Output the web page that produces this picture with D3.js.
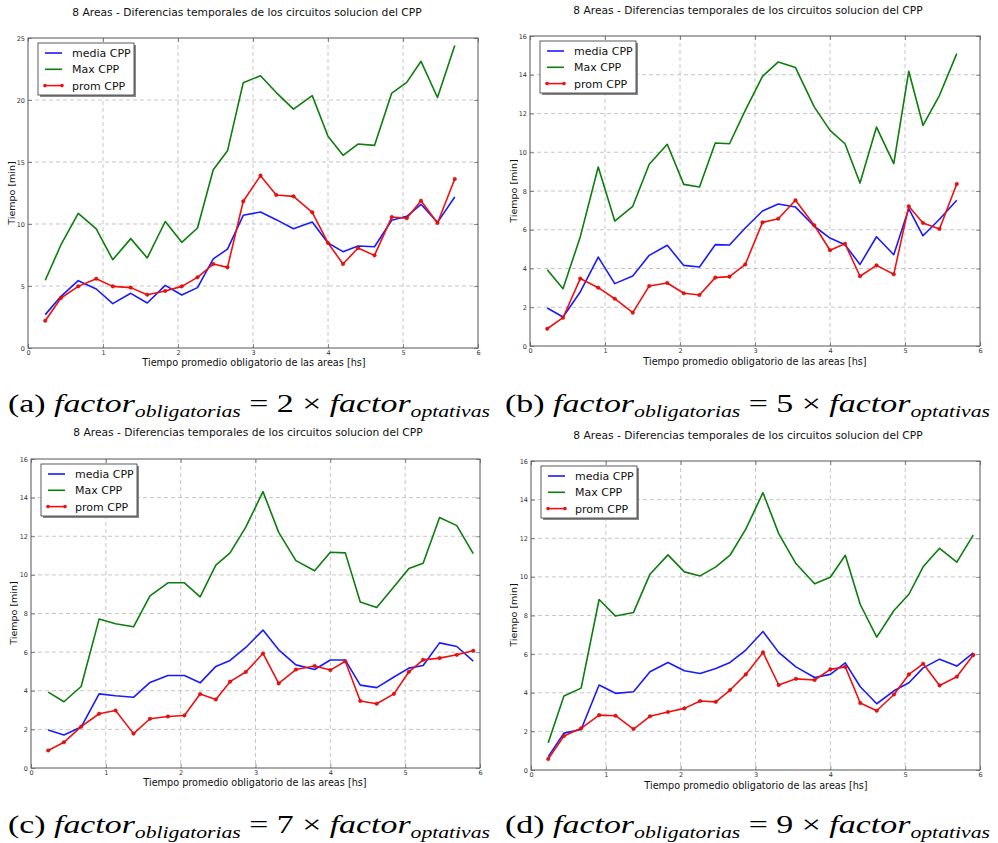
<!DOCTYPE html>
<html>
<head>
<meta charset="utf-8">
<script src="https://cdn.jsdelivr.net/npm/d3@7"></script>
<style>
  body { margin: 0; background: #fff; }
  svg { display: block; }
  .tick text { font-family: "DejaVu Sans", sans-serif; }
</style>
</head>
<body>
<div id="chart"></div>
<script>
// Tiempo promedio obligatorio de las areas [hs]
const xHs = [0.23, 0.44, 0.67, 0.91, 1.13, 1.37, 1.59, 1.83, 2.05, 2.26, 2.47, 2.66, 2.87,
  3.10, 3.31, 3.54, 3.79, 4.0, 4.2, 4.4, 4.62, 4.85, 5.05, 5.24, 5.46, 5.69, 5.91];

// (a) factor 2
const mediaA = [2.69, 4.17, 5.43, 4.76, 3.58, 4.41, 3.63, 5.05, 4.27, 4.87, 7.18, 7.98, 10.7,
  10.97, 10.35, 9.62, 10.16, 8.47, 7.77, 8.23, 8.17, 10.3, 10.62, 11.59, 10.13, 12.18];
const maxA = [5.46, 8.33, 10.86, 9.6, 7.12, 8.82, 7.26, 10.2, 8.52, 9.68, 14.38, 15.9, 21.4,
  21.96, 20.6, 19.27, 20.35, 17.07, 15.54, 16.45, 16.34, 20.56, 21.42, 23.12, 20.2, 24.4];
const promA = [2.2, 4.03, 4.97, 5.59, 4.97, 4.87, 4.3, 4.6, 4.97, 5.7, 6.77, 6.5, 11.83,
  13.9, 12.34, 12.23, 10.94, 8.47, 6.77, 8.06, 7.47, 10.56, 10.46, 11.88, 10.08, 13.63];

// (b) factor 5
const mediaB = [1.96, 1.5, 2.79, 4.59, 3.22, 3.61, 4.68, 5.2, 4.16, 4.08, 5.23, 5.21, 6.09,
  6.97, 7.33, 7.17, 6.18, 5.57, 5.23, 4.21, 5.64, 4.71, 7.09, 5.69, 6.54, 7.52];
const maxB = [3.94, 2.96, 5.63, 9.24, 6.45, 7.21, 9.38, 10.41, 8.34, 8.21, 10.48, 10.44, 12.16,
  13.92, 14.66, 14.37, 12.34, 11.13, 10.44, 8.41, 11.3, 9.41, 14.18, 11.39, 12.94, 15.09];
const promB = [0.89, 1.46, 3.48, 3.01, 2.44, 1.72, 3.1, 3.25, 2.72, 2.63, 3.53, 3.58, 4.21,
  6.38, 6.57, 7.52, 6.23, 4.94, 5.28, 3.6, 4.16, 3.7, 7.21, 6.35, 6.04, 8.36];

// (c) factor 7
const mediaC = [1.97, 1.71, 2.12, 3.84, 3.74, 3.66, 4.43, 4.79, 4.79, 4.41, 5.26, 5.57, 6.24,
  7.14, 6.12, 5.34, 5.1, 5.59, 5.59, 4.29, 4.16, 4.71, 5.17, 5.31, 6.48, 6.29, 5.53];
const maxC = [3.93, 3.43, 4.22, 7.71, 7.47, 7.31, 8.91, 9.59, 9.59, 8.86, 10.5, 11.14, 12.47,
  14.31, 12.2, 10.74, 10.21, 11.17, 11.14, 8.6, 8.31, 9.38, 10.33, 10.6, 12.97, 12.55, 11.1];
const promC = [0.91, 1.33, 2.14, 2.81, 2.98, 1.78, 2.55, 2.67, 2.72, 3.83, 3.55, 4.47, 4.97,
  5.93, 4.38, 5.1, 5.28, 5.07, 5.53, 3.47, 3.33, 3.84, 4.98, 5.6, 5.69, 5.86, 6.07];

// (d) factor 9
const mediaD = [0.69, 1.91, 2.1, 4.4, 3.97, 4.05, 5.09, 5.57, 5.14, 5.0, 5.26, 5.57, 6.21,
  7.17, 6.09, 5.34, 4.79, 4.95, 5.55, 4.31, 3.43, 4.1, 4.52, 5.29, 5.74, 5.38, 6.07];
const maxD = [1.41, 3.83, 4.24, 8.83, 7.97, 8.16, 10.14, 11.14, 10.26, 10.05, 10.52, 11.12, 12.47,
  14.36, 12.24, 10.69, 9.64, 9.98, 11.12, 8.57, 6.88, 8.26, 9.1, 10.52, 11.48, 10.76, 12.16];
const promD = [0.57, 1.76, 2.16, 2.84, 2.81, 2.12, 2.78, 3.0, 3.19, 3.57, 3.53, 4.14, 4.95,
  6.09, 4.4, 4.72, 4.66, 5.21, 5.34, 3.47, 3.07, 3.91, 4.95, 5.5, 4.38, 4.83, 5.95];

const seriesNames = ['media CPP', 'Max CPP', 'prom CPP'];
const seriesColors = ['#1a1aff', '#0d7d0d', '#f01010'];
const titleText = '8 Areas - Diferencias temporales de los circuitos solucion del CPP';
const xLabel = 'Tiempo promedio obligatorio de las areas [hs]';
const yLabel = 'Tiempo [min]';
const xTicks = [0, 1, 2, 3, 4, 5, 6];
const yTicksA = [0, 5, 10, 15, 20, 25];
const yTicks16 = [0, 2, 4, 6, 8, 10, 12, 14, 16];
const captionLetters = ['a', 'b', 'c', 'd'];
const captionFactors = [2, 5, 7, 9];

const W = 998, H = 843;
const svg = d3.select('#chart').append('svg').attr('width', W).attr('height', H);

const panels = [
  { x0: 28, y0: 38, x1: 478, y1: 348, ymax: 25, yTicks: yTicksA, data: [mediaA, maxA, promA], tx: 247, ty: 16, lx: 254, ly: 366, yx: 11, yy: 193, cx: 8, cy: 412, cw: 482 },
  { x0: 530, y0: 36, x1: 980, y1: 346, ymax: 16, yTicks: yTicks16, data: [mediaB, maxB, promB], tx: 748, ty: 14, lx: 755, ly: 365, yx: 513, yy: 191, cx: 505, cy: 412, cw: 485 },
  { x0: 31, y0: 459, x1: 480, y1: 768, ymax: 16, yTicks: yTicks16, data: [mediaC, maxC, promC], tx: 248, ty: 436, lx: 255, ly: 786, yx: 13, yy: 613, cx: 8, cy: 833, cw: 482 },
  { x0: 531, y0: 461, x1: 980, y1: 770, ymax: 16, yTicks: yTicks16, data: [mediaD, maxD, promD], tx: 748, ty: 439, lx: 756, ly: 789, yx: 513, yy: 615, cx: 505, cy: 833, cw: 485 }
];

panels.forEach((p, i) => {
  const g = svg.append('g');
  const x = d3.scaleLinear().domain([0, 6]).range([p.x0, p.x1]);
  const y = d3.scaleLinear().domain([0, p.ymax]).range([p.y1, p.y0]);

  // grid
  g.append('g').selectAll('line').data(xTicks.slice(1, -1)).join('line')
    .attr('x1', d => x(d)).attr('x2', d => x(d)).attr('y1', p.y0).attr('y2', p.y1)
    .attr('stroke', '#b8b8b8').attr('stroke-width', 0.8).attr('stroke-dasharray', '4,3');
  g.append('g').selectAll('line').data(p.yTicks.slice(1, -1)).join('line')
    .attr('x1', p.x0).attr('x2', p.x1).attr('y1', d => y(d)).attr('y2', d => y(d))
    .attr('stroke', '#b8b8b8').attr('stroke-width', 0.8).attr('stroke-dasharray', '4,3');

  // axes (ticks inside, matplotlib classic)
  g.append('g').attr('transform', `translate(0,${p.y1})`)
    .call(d3.axisBottom(x).tickValues(xTicks).tickFormat(d3.format('d')).tickSize(-4).tickPadding(2));
  g.append('g').attr('transform', `translate(${p.x0},0)`)
    .call(d3.axisLeft(y).tickValues(p.yTicks).tickFormat(d3.format('d')).tickSize(-4).tickPadding(3));
  g.append('g').attr('transform', `translate(0,${p.y0})`)
    .call(d3.axisTop(x).tickValues(xTicks).tickFormat('').tickSize(-4));
  g.append('g').attr('transform', `translate(${p.x1},0)`)
    .call(d3.axisRight(y).tickValues(p.yTicks).tickFormat('').tickSize(-4));
  g.selectAll('.domain').remove();
  g.selectAll('.tick line').attr('stroke', '#444').attr('stroke-width', 0.6);
  g.selectAll('.tick text').attr('font-size', 6.5).attr('fill', '#333');

  // frame
  g.append('rect').attr('x', p.x0).attr('y', p.y0)
    .attr('width', p.x1 - p.x0).attr('height', p.y1 - p.y0)
    .attr('fill', 'none').attr('stroke', '#555').attr('stroke-width', 1);

  // lines
  p.data.forEach((vals, k) => {
    const pts = vals.map((v, j) => [xHs[j], v]);
    g.append('path').datum(pts)
      .attr('fill', 'none').attr('stroke', seriesColors[k]).attr('stroke-width', 1.6)
      .attr('stroke-linejoin', 'round')
      .attr('d', d3.line().x(d => x(d[0])).y(d => y(d[1])));
    if (k === 2) {
      g.append('g').selectAll('circle').data(pts).join('circle')
        .attr('cx', d => x(d[0])).attr('cy', d => y(d[1])).attr('r', 1.8)
        .attr('fill', seriesColors[k]).attr('stroke', '#a00').attr('stroke-width', 0.4);
    }
  });

  // legend
  const lg = g.append('g').attr('transform', `translate(${p.x0 + 10},${p.y0 + 5})`);
  lg.append('rect').attr('x', 2).attr('y', 2).attr('width', 96).attr('height', 52).attr('fill', '#888');
  lg.append('rect').attr('width', 96).attr('height', 52).attr('fill', '#fff')
    .attr('stroke', '#333').attr('stroke-width', 0.8);
  seriesNames.forEach((name, k) => {
    const yy = 10 + k * 16.3;
    lg.append('line').attr('x1', 7).attr('x2', 24).attr('y1', yy).attr('y2', yy)
      .attr('stroke', seriesColors[k]).attr('stroke-width', 1.6);
    if (k === 2) {
      [7, 24].forEach(cx => lg.append('circle').attr('cx', cx).attr('cy', yy).attr('r', 1.8)
        .attr('fill', seriesColors[k]));
    }
    lg.append('text').attr('x', 34).attr('y', yy + 4).text(name)
      .attr('font-family', '"DejaVu Sans", sans-serif').attr('font-size', 11).attr('fill', '#111');
  });

  // texts
  g.append('text').attr('x', p.tx).attr('y', p.ty).attr('text-anchor', 'middle')
    .attr('font-family', '"DejaVu Sans", sans-serif').attr('font-size', 10.7).attr('fill', '#111')
    .text(titleText);
  g.append('text').attr('x', p.lx).attr('y', p.ly).attr('text-anchor', 'middle')
    .attr('font-family', '"DejaVu Sans", sans-serif').attr('font-size', 9.7).attr('fill', '#111')
    .text(xLabel);
  g.append('text').attr('transform', `translate(${p.yx + 3.5},${p.yy}) rotate(-90)`)
    .attr('text-anchor', 'middle')
    .attr('font-family', '"DejaVu Sans", sans-serif').attr('font-size', 9.5).attr('fill', '#111')
    .text(yLabel);

  // caption
  const cap = svg.append('text').attr('x', p.cx).attr('y', p.cy)
    .attr('textLength', p.cw).attr('lengthAdjust', 'spacingAndGlyphs')
    .attr('font-family', '"Liberation Serif", "DejaVu Serif", serif').attr('font-size', 25).attr('fill', '#000');
  cap.append('tspan').text(`(${captionLetters[i]}) `);
  cap.append('tspan').attr('font-style', 'italic').text('factor');
  cap.append('tspan').attr('font-style', 'italic').attr('font-size', 16).attr('dy', 5).text('obligatorias');
  cap.append('tspan').attr('dy', -5).text(` = ${captionFactors[i]} \u00d7 `);
  cap.append('tspan').attr('font-style', 'italic').text('factor');
  cap.append('tspan').attr('font-style', 'italic').attr('font-size', 16).attr('dy', 5).text('optativas');
});
</script>
</body>
</html>
